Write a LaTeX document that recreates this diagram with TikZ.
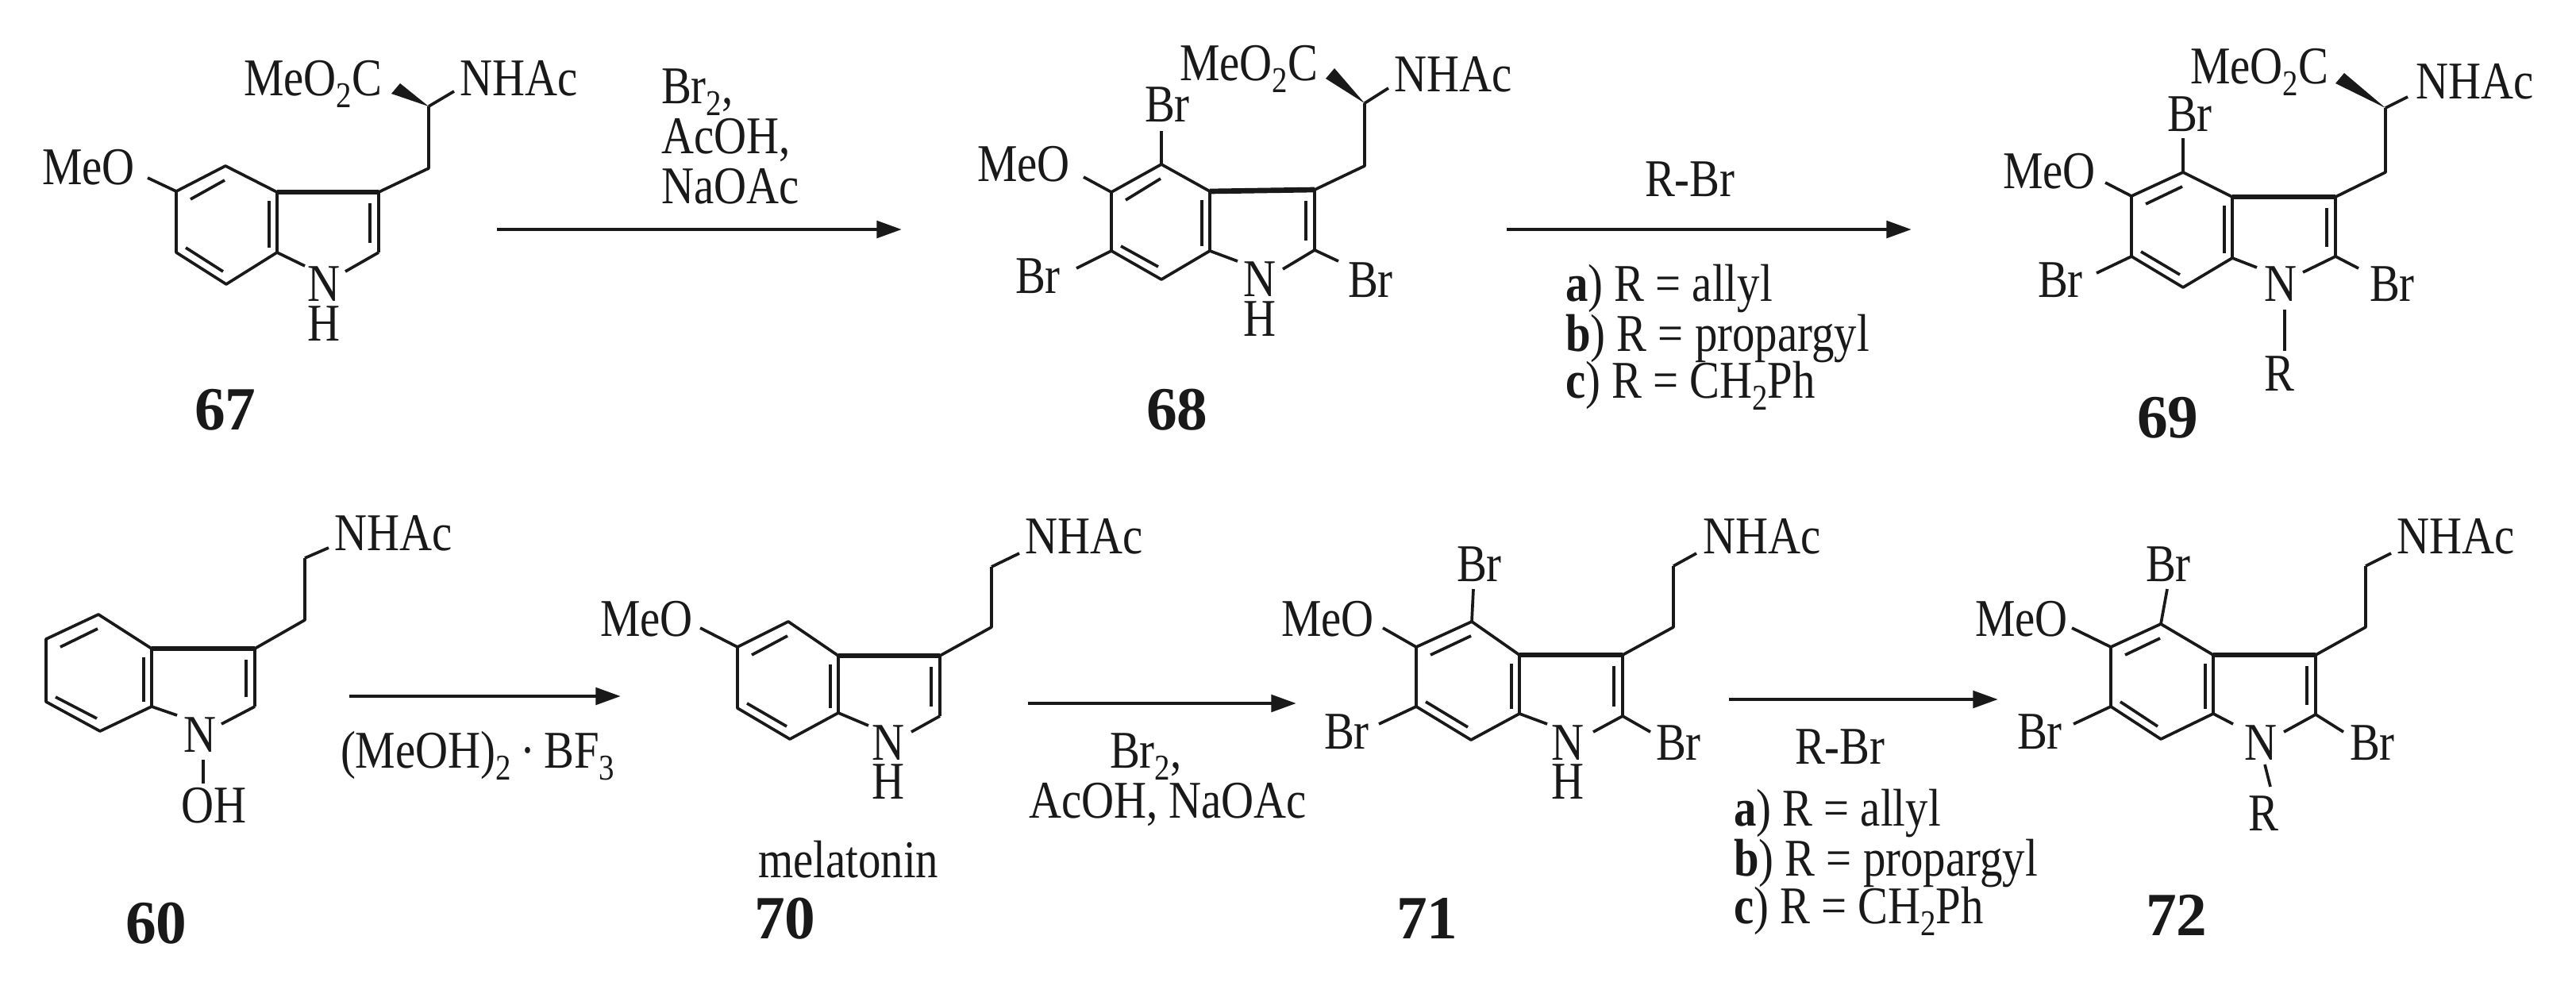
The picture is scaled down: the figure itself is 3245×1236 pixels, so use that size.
\documentclass[tikz,border=0pt]{standalone}
\usepackage{fontspec}
\setmainfont[FakeStretch=0.85]{Liberation Serif}
\newfontfamily\numf{Liberation Serif}
\usetikzlibrary{calc,arrows.meta}
\definecolor{ink}{gray}{0.1}
\tikzset{
  lab/.style={anchor=base west,inner sep=0pt,outer sep=0pt,text=ink,font=\fontsize{19}{22}\selectfont},
  num/.style={anchor=base west,inner sep=0pt,outer sep=0pt,text=ink,font=\numf\bfseries\fontsize{22}{24}\selectfont},
  bondline/.style={draw=ink,line width=1.05pt,line join=round},
  fusedbond/.style={draw=ink,line width=1.9pt},
  rxn/.style={draw=ink,line width=1.4pt,-{Triangle[length=9pt,width=6pt]}}
}
\newcommand\subt[1]{\raisebox{-4.5pt}{\fontsize{13}{13}\selectfont #1}}
% label: name, baseline-left position, text
\newcommand\tx[3]{\node[lab] (#1) at (#2) {#3};}
\newcommand\nmb[3]{\node[num] (#1) at (#2) {#3};}
% bond with a free end
\newcommand\bnd[3]{\coordinate (#1) at (#3); \draw[bondline] (#2) -- (#1);}
% indole skeleton: prefix, C5, C4, C3a, C3, C2, C7a, C7, C6
\newcommand\indring[9]{%
  \coordinate (#1c5) at (#2); \coordinate (#1c4) at (#3); \coordinate (#1c3a) at (#4);
  \coordinate (#1c3) at (#5); \coordinate (#1c2) at (#6); \coordinate (#1c7a) at (#7);
  \coordinate (#1c7) at (#8); \coordinate (#1c6) at (#9);
  \draw[bondline] (#1c3a) -- (#1c4) -- (#1c5) -- (#1c6) -- (#1c7) -- (#1c7a) -- (#1c3a);
  \draw[fusedbond] (#1c3a) -- (#1c3);
  \draw[bondline] (#1c3) -- (#1c2);
  \draw[bondline] ($(#1c5)+(18,10)$) -- ($(#1c4)+(-1,18)$);
  \draw[bondline] ($(#1c6)+(12,-6)$) -- ($(#1c7)+(-4,-16)$);
  \draw[bondline] ($(#1c3a)+(-10,11)$) -- ($(#1c7a)+(-10,-6)$);
  \draw[bondline] ($(#1c3)+(-11,14)$) -- ($(#1c2)+(-11,-12)$);
}
\newcommand\wdg[3]{\coordinate (#1) at (#3);
  \fill[ink] (#2) -- ($(#1)+(6,-6)$) -- ($(#1)+(-5,7)$) -- cycle;}
\begin{document}
\begin{tikzpicture}[x=0.01cm,y=-0.01cm]
\useasboundingbox (0,0) rectangle (3245,1236);

% ---------- 67
\indring{a}{222,241}{284,209}{349,242}{477,242}{477,318}{349,318}{285,358}{222,318}
\coordinate (ach2) at (540,212); \coordinate (ach) at (540,134);
\draw[bondline] (ac3) -- (ach2) -- (ach);
\bnd{ae1}{ach}{572,115}
\wdg{aw}{ach}{498,111}
\bnd{ae2}{ac5}{186,224}
\bnd{ae3}{ac7a}{384,335}
\bnd{ae4}{ac2}{435,342}
\tx{an1}{579,120}{NHAc}
\tx{an2}{307,120}{MeO\subt{2}C}
\tx{an3}{53,232}{MeO}
\tx{an4}{387,379}{N}
\tx{an5}{387,429}{H}
\nmb{an6}{245,541}{67}

% ---------- reaction 1
\coordinate (r1s) at (626,289); \coordinate (r1e) at (1136,289);
\draw[rxn] (r1s) -- (r1e);
\tx{r1a}{833,130}{Br\subt{2},}
\tx{r1b}{833,193}{AcOH,}
\tx{r1c}{833,256}{NaOAc}

% ---------- 68
\indring{b}{1400,242}{1463,207}{1524,241}{1656,239}{1656,315}{1524,316}{1463,352}{1400,316}
\coordinate (bch2) at (1719,209); \coordinate (bch) at (1719,130);
\draw[bondline] (bc3) -- (bch2) -- (bch);
\bnd{be1}{bch}{1749,111}
\wdg{bw}{bch}{1675,92}
\bnd{be2}{bc5}{1365,223}
\bnd{be3}{bc7a}{1559,329}
\bnd{be4}{bc2}{1616,339}
\bnd{be5}{bc4}{1463,165}
\bnd{be6}{bc6}{1356,338}
\bnd{be7}{bc2}{1686,329}
\tx{bn1}{1756,115}{NHAc}
\tx{bn2}{1486,101}{MeO\subt{2}C}
\tx{bn3}{1231,228}{MeO}
\tx{bn4}{1566,373}{N}
\tx{bn5}{1566,423}{H}
\tx{bn6}{1442,153}{Br}
\tx{bn7}{1279,369}{Br}
\tx{bn8}{1698,374}{Br}
\nmb{bn9}{1444,541}{68}

% ---------- reaction 2
\coordinate (r2s) at (1898,289); \coordinate (r2e) at (2408,289);
\draw[rxn] (r2s) -- (r2e);
\tx{r2a}{2072,247}{R-Br}
\tx{r2b}{1972,379}{\textbf{a}) R = allyl}
\tx{r2c}{1972,442}{\textbf{b}) R = propargyl}
\tx{r2d}{1972,501}{\textbf{c}) R = CH\subt{2}Ph}

% ---------- 69
\indring{c}{2685,247}{2750,217}{2812,248}{2942,248}{2942,323}{2812,325}{2750,362}{2685,323}
\coordinate (cch2) at (3005,217); \coordinate (cch) at (3005,136);
\draw[bondline] (cc3) -- (cch2) -- (cch);
\bnd{ce1}{cch}{3033,122}
\wdg{cw}{cch}{2947,98}
\bnd{ce2}{cc5}{2652,230}
\bnd{ce3}{cc7a}{2843,337}
\bnd{ce4}{cc2}{2901,343}
\bnd{ce5}{cc4}{2750,174}
\bnd{ce6}{cc6}{2641,344}
\bnd{ce7}{cc2}{2971,338}
\coordinate (ce8) at (2878,390); \coordinate (ce9) at (2878,442);
\draw[bondline] (ce8) -- (ce9);
\tx{cn1}{3043,124}{NHAc}
\tx{cn2}{2759,105}{MeO\subt{2}C}
\tx{cn3}{2523,237}{MeO}
\tx{cn4}{2852,379}{N}
\tx{cn5}{2852,492}{R}
\tx{cn6}{2730,165}{Br}
\tx{cn7}{2567,374}{Br}
\tx{cn8}{2985,379}{Br}
\nmb{cn9}{2692,551}{69}

% ---------- 60
\indring{d}{58,805}{124,774}{191,817}{321,817}{321,890}{191,890}{126,921}{58,884}
\coordinate (dch2) at (384,781); \coordinate (dch) at (384,703);
\draw[bondline] (dc3) -- (dch2) -- (dch);
\bnd{de1}{dch}{414,690}
\bnd{de3}{dc7a}{223,901}
\bnd{de4}{dc2}{279,912}
\coordinate (de8) at (256,957); \coordinate (de9) at (256,987);
\draw[bondline] (de8) -- (de9);
\tx{dn1}{421,693}{NHAc}
\tx{dn4}{231,947}{N}
\tx{dn5}{228,1036}{OH}
\nmb{dn9}{158,1188}{60}

% ---------- reaction 3
\coordinate (r3s) at (440,877); \coordinate (r3e) at (782,877);
\draw[rxn] (r3s) -- (r3e);
\tx{r3a}{429,967}{(MeOH)\subt{2}\,·\,BF\subt{3}}

% ---------- 70
\indring{e}{929,815}{993,783}{1056,826}{1184,826}{1184,902}{1056,898}{995,931}{929,892}
\coordinate (ech2) at (1249,790); \coordinate (ech) at (1249,714);
\draw[bondline] (ec3) -- (ech2) -- (ech);
\bnd{ee1}{ech}{1284,697}
\bnd{ee2}{ec5}{882,791}
\bnd{ee3}{ec7a}{1094,914}
\bnd{ee4}{ec2}{1148,922}
\tx{en1}{1291,697}{NHAc}
\tx{en3}{756,801}{MeO}
\tx{en4}{1098,957}{N}
\tx{en5}{1098,1006}{H}
\tx{en6}{955,1105}{melatonin}
\nmb{en9}{950,1182}{70}

% ---------- reaction 4
\coordinate (r4s) at (1295,886); \coordinate (r4e) at (1633,886);
\draw[rxn] (r4s) -- (r4e);
\tx{r4a}{1398,967}{Br\subt{2},}
\tx{r4b}{1296,1030}{AcOH, NaOAc}

% ---------- 71
\indring{f}{1784,815}{1854,783}{1914,825}{2044,825}{2044,902}{1914,899}{1853,932}{1784,890}
\coordinate (fch2) at (2108,790); \coordinate (fch) at (2108,713);
\draw[bondline] (fc3) -- (fch2) -- (fch);
\bnd{fe1}{fch}{2137,697}
\bnd{fe2}{fc5}{1742,791}
\bnd{fe3}{fc7a}{1949,912}
\bnd{fe4}{fc2}{2007,922}
\bnd{fe5}{fc4}{1856,742}
\bnd{fe6}{fc6}{1737,912}
\bnd{fe7}{fc2}{2079,922}
\tx{fn1}{2145,697}{NHAc}
\tx{fn3}{1614,801}{MeO}
\tx{fn4}{1954,957}{N}
\tx{fn5}{1954,1006}{H}
\tx{fn6}{1835,732}{Br}
\tx{fn7}{1668,943}{Br}
\tx{fn8}{2086,957}{Br}
\nmb{fn9}{1759,1182}{71}

% ---------- reaction 5
\coordinate (r5s) at (2178,881); \coordinate (r5e) at (2517,881);
\draw[rxn] (r5s) -- (r5e);
\tx{r5a}{2261,962}{R-Br}
\tx{r5b}{2184,1040}{\textbf{a}) R = allyl}
\tx{r5c}{2184,1103}{\textbf{b}) R = propargyl}
\tx{r5d}{2184,1163}{\textbf{c}) R = CH\subt{2}Ph}

% ---------- 72
\indring{g}{2659,815}{2722,786}{2788,825}{2917,825}{2917,900}{2788,899}{2722,931}{2659,890}
\coordinate (gch2) at (2980,790); \coordinate (gch) at (2980,713);
\draw[bondline] (gc3) -- (gch2) -- (gch);
\bnd{ge1}{gch}{3012,697}
\bnd{ge2}{gc5}{2610,791}
\bnd{ge3}{gc7a}{2813,912}
\bnd{ge4}{gc2}{2877,922}
\bnd{ge5}{gc4}{2730,742}
\bnd{ge6}{gc6}{2612,912}
\bnd{ge7}{gc2}{2952,922}
\coordinate (ge8) at (2853,963); \coordinate (ge9) at (2860,991);
\draw[bondline] (ge8) -- (ge9);
\tx{gn1}{3019,697}{NHAc}
\tx{gn3}{2488,801}{MeO}
\tx{gn4}{2827,957}{N}
\tx{gn5}{2832,1046}{R}
\tx{gn6}{2703,732}{Br}
\tx{gn7}{2541,943}{Br}
\tx{gn8}{2960,957}{Br}
\nmb{gn9}{2703,1178}{72}
\end{tikzpicture}
\end{document}
